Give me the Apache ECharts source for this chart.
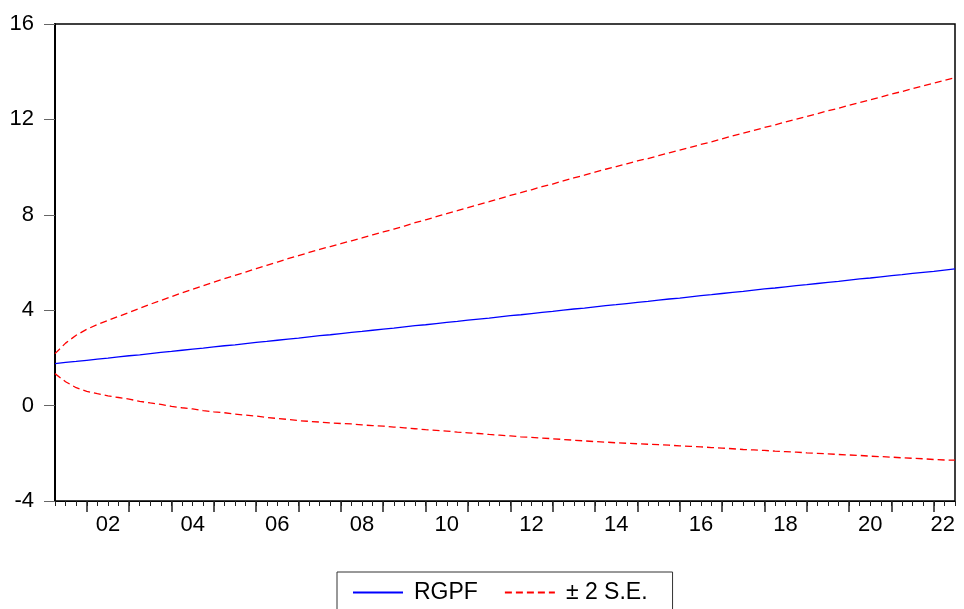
<!DOCTYPE html>
<html>
<head>
<meta charset="utf-8">
<script src="https://cdn.jsdelivr.net/npm/echarts@6/dist/echarts.min.js"></script>
<style>html,body{margin:0;padding:0;background:#fff}#c{width:964px;height:609px}</style>
</head>
<body>
<div id="c"></div>
<script>
const quarters = [
"2001Q2","2001Q3","2001Q4",
"2002Q1","2002Q2","2002Q3","2002Q4","2003Q1","2003Q2","2003Q3","2003Q4",
"2004Q1","2004Q2","2004Q3","2004Q4","2005Q1","2005Q2","2005Q3","2005Q4",
"2006Q1","2006Q2","2006Q3","2006Q4","2007Q1","2007Q2","2007Q3","2007Q4",
"2008Q1","2008Q2","2008Q3","2008Q4","2009Q1","2009Q2","2009Q3","2009Q4",
"2010Q1","2010Q2","2010Q3","2010Q4","2011Q1","2011Q2","2011Q3","2011Q4",
"2012Q1","2012Q2","2012Q3","2012Q4","2013Q1","2013Q2","2013Q3","2013Q4",
"2014Q1","2014Q2","2014Q3","2014Q4","2015Q1","2015Q2","2015Q3","2015Q4",
"2016Q1","2016Q2","2016Q3","2016Q4","2017Q1","2017Q2","2017Q3","2017Q4",
"2018Q1","2018Q2","2018Q3","2018Q4","2019Q1","2019Q2","2019Q3","2019Q4",
"2020Q1","2020Q2","2020Q3","2020Q4","2021Q1","2021Q2","2021Q3","2021Q4",
"2022Q1","2022Q2","2022Q3"];

// tick labels (shown at mid-year, Q3)
const tickLabels = {"2002Q3":"02","2004Q3":"04","2006Q3":"06","2008Q3":"08","2010Q3":"10",
  "2012Q3":"12","2014Q3":"14","2016Q3":"16","2018Q3":"18","2020Q3":"20","2022Q3":"22"};

const rgpf = [1.76,1.81,1.85,1.90,1.95,1.99,2.04,2.09,2.13,2.18,2.23,2.27,2.32,2.37,2.41,2.46,2.51,2.55,2.60,2.65,
2.69,2.74,2.79,2.83,2.88,2.93,2.97,3.02,3.07,3.11,3.16,3.21,3.25,3.30,3.35,3.39,3.44,3.49,3.53,3.58,
3.63,3.67,3.72,3.77,3.81,3.86,3.91,3.95,4.00,4.05,4.09,4.14,4.19,4.23,4.28,4.33,4.37,4.42,4.47,4.51,
4.56,4.61,4.65,4.70,4.75,4.79,4.84,4.89,4.93,4.98,5.03,5.07,5.12,5.17,5.21,5.26,5.31,5.35,5.40,5.45,
5.49,5.54,5.59,5.63,5.68,5.73];

const upper = [2.18,2.62,2.95,3.20,3.40,3.57,3.74,3.91,4.08,4.25,4.41,4.57,4.73,4.88,5.03,5.18,5.32,5.46,5.60,5.74,
5.88,6.02,6.16,6.29,6.42,6.55,6.67,6.79,6.91,7.03,7.16,7.28,7.40,7.53,7.67,7.79,7.92,8.05,8.17,8.30,
8.43,8.55,8.68,8.81,8.93,9.05,9.18,9.29,9.42,9.55,9.66,9.79,9.91,10.02,10.14,10.26,10.36,10.48,10.60,10.71,
10.83,10.95,11.06,11.18,11.31,11.42,11.54,11.66,11.77,11.89,12.01,12.12,12.24,12.36,12.47,12.59,12.71,12.82,12.94,13.06,
13.17,13.29,13.41,13.52,13.64,13.75];

const lower = [1.34,1.00,0.75,0.60,0.50,0.41,0.34,0.27,0.18,0.11,0.05,-0.03,-0.09,-0.14,-0.21,-0.26,-0.30,-0.36,-0.40,-0.44,
-0.50,-0.54,-0.58,-0.63,-0.66,-0.69,-0.73,-0.75,-0.77,-0.81,-0.84,-0.86,-0.90,-0.93,-0.97,-1.01,-1.04,-1.07,-1.11,-1.14,
-1.17,-1.21,-1.24,-1.27,-1.31,-1.33,-1.36,-1.39,-1.42,-1.45,-1.48,-1.51,-1.53,-1.56,-1.58,-1.60,-1.62,-1.64,-1.66,-1.69,
-1.71,-1.73,-1.76,-1.78,-1.81,-1.84,-1.86,-1.88,-1.91,-1.93,-1.95,-1.98,-2.00,-2.02,-2.05,-2.07,-2.09,-2.12,-2.14,-2.16,
-2.19,-2.21,-2.23,-2.26,-2.28,-2.29];

const yMin = -4, yMax = 16, yStep = 4;
const seriesNames = ["RGPF", "\u00b1 2 S.E."];

const FONT = "Liberation Sans, Arial, sans-serif";
const chart = echarts.init(document.getElementById('c'), null, {renderer: 'canvas'});
chart.setOption({
  animation: false,
  backgroundColor: '#fff',
  grid: {left: 55, right: 9, top: 24, bottom: 108, show: true, borderColor: '#000', borderWidth: 1.5, containLabel: false},
  legend: {
    left: 337, top: 572,
    padding: [9, 25, 20, 15],
    borderColor: '#333', borderWidth: 1,
    backgroundColor: '#fff',
    itemWidth: 50, itemHeight: 14, itemGap: 26,
    data: seriesNames,
    itemStyle: {opacity: 0},
    textStyle: {fontFamily: FONT, fontSize: 23, color: '#000', padding: [0, 0, 0, 6]}
  },
  xAxis: [{
    type: 'category', data: quarters, boundaryGap: false, position: 'bottom',
    axisLine: {show: true, onZero: false, lineStyle: {color: '#000', width: 1}},
    axisTick: {show: true, interval: 0, length: 5, lineStyle: {color: '#222', width: 1}},
    axisLabel: {
      interval: function (i, v) { return tickLabels[v] !== undefined; },
      formatter: function (v) { return tickLabels[v] || ''; },
      fontFamily: FONT, fontSize: 22, color: '#000', margin: 13, alignMaxLabel: 'right'
    },
    splitLine: {show: false}
  }, {
    type: 'category', data: quarters, boundaryGap: false, position: 'bottom',
    axisLine: {show: false, onZero: false},
    axisTick: {show: true, interval: function (i, v) { return v.slice(4) === 'Q1'; }, length: 11, lineStyle: {color: '#222', width: 1.5}},
    axisLabel: {show: false},
    splitLine: {show: false}
  }],
  yAxis: {
    type: 'value', min: yMin, max: yMax, interval: yStep,
    axisLine: {show: true, lineStyle: {color: '#000', width: 2}},
    axisTick: {show: true, length: 11, lineStyle: {color: '#666', width: 1}},
    axisLabel: {fontFamily: FONT, fontSize: 22, color: '#000', margin: 21},
    splitLine: {show: false}
  },
  series: [{
    name: seriesNames[0], type: 'line', xAxisIndex: 0, data: rgpf, symbol: 'none',
    lineStyle: {color: '#0000ff', width: 1.3}, itemStyle: {color: '#0000ff'}
  }, {
    name: seriesNames[1], type: 'line', xAxisIndex: 0, data: upper, symbol: 'none',
    lineStyle: {color: '#ff0000', width: 1.3, type: [7, 4]}, itemStyle: {color: '#ff0000'}
  }, {
    name: seriesNames[1], type: 'line', xAxisIndex: 0, data: lower, symbol: 'none',
    lineStyle: {color: '#ff0000', width: 1.3, type: [7, 4]}, itemStyle: {color: '#ff0000'}
  }]
});
</script>
</body>
</html>
